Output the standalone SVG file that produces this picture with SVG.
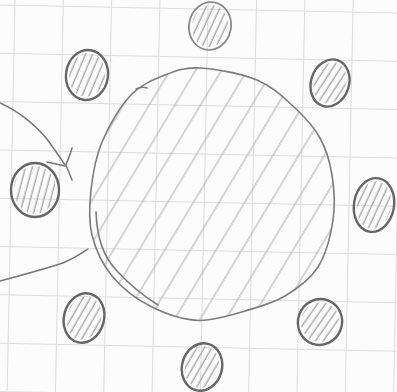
<svg xmlns="http://www.w3.org/2000/svg" width="397" height="392" viewBox="0 0 397 392">
  <defs>
    <style>
      .grid line { stroke: #dcdcdc; stroke-width: 1; }
      .outline { fill: none; stroke: #7c7c7c; stroke-width: 1.6; stroke-linecap: round; stroke-linejoin: round; }
      .pencil { fill: none; stroke: #767676; stroke-width: 1.5; stroke-linecap: round; stroke-linejoin: round; }
      .dot { fill: none; stroke: #666666; stroke-width: 2.4; }
      .dotfill { stroke: none; fill: url(#smallHatch); }
    </style>
    <pattern id="bigHatch" patternUnits="userSpaceOnUse" width="22" height="40" patternTransform="rotate(31)">
      <line x1="6" y1="-2" x2="6" y2="42" stroke="#b2b2b2" stroke-width="1.1"/>
    </pattern>
    <pattern id="smallHatch" patternUnits="userSpaceOnUse" width="6.5" height="20" patternTransform="rotate(15)">
      <line x1="3" y1="-2" x2="3" y2="22" stroke="#adadad" stroke-width="1.5"/>
    </pattern>
  </defs>

  <rect width="397" height="392" fill="#fcfcfc"/>

  <g class="grid" transform="rotate(1.15)">
    <line x1="-33.3" y1="-30" x2="-33.3" y2="430"/>
    <line x1="15" y1="-30" x2="15" y2="430"/>
    <line x1="63.3" y1="-30" x2="63.3" y2="430"/>
    <line x1="111.6" y1="-30" x2="111.6" y2="430"/>
    <line x1="159.9" y1="-30" x2="159.9" y2="430"/>
    <line x1="208.2" y1="-30" x2="208.2" y2="430"/>
    <line x1="256.5" y1="-30" x2="256.5" y2="430"/>
    <line x1="304.8" y1="-30" x2="304.8" y2="430"/>
    <line x1="353.1" y1="-30" x2="353.1" y2="430"/>
    <line x1="401.4" y1="-30" x2="401.4" y2="430"/>
    <line x1="-30" y1="-43.3" x2="430" y2="-43.3"/>
    <line x1="-30" y1="5" x2="430" y2="5"/>
    <line x1="-30" y1="53.3" x2="430" y2="53.3"/>
    <line x1="-30" y1="101.6" x2="430" y2="101.6"/>
    <line x1="-30" y1="149.9" x2="430" y2="149.9"/>
    <line x1="-30" y1="198.2" x2="430" y2="198.2"/>
    <line x1="-30" y1="246.5" x2="430" y2="246.5"/>
    <line x1="-30" y1="294.8" x2="430" y2="294.8"/>
    <line x1="-30" y1="343.1" x2="430" y2="343.1"/>
    <line x1="-30" y1="391.4" x2="430" y2="391.4"/>
  </g>

  <g id="center">
    <path fill="url(#bigHatch)" stroke="none" d="M200,68 C215.3,68.8 241.3,73.5 257,80 C272.7,86.5 283.5,97.3 294,107 C304.5,116.7 313.7,126.7 320,138 C326.3,149.3 329.8,161.3 332,175 C334.2,188.7 335.3,204.7 333,220 C330.7,235.3 326,254.3 318,267 C310,279.7 297.2,288.7 285,296 C272.8,303.3 259.2,306.8 245,311 C230.8,315.2 215.8,319.8 200,320.5 C184.2,320.2 164.7,313.5 150,306 C135.3,298.5 121.7,287.8 112,276 C102.3,264.2 95.5,249.3 92,235 C88.5,220.7 89.3,205.5 91,190 C92.7,174.5 95.5,157.7 102,142 C108.5,126.3 119.5,107.2 130,96 C140.5,84.8 153.3,79.7 165,75 C176.7,70.3 184.7,67.2 200,68 Z"/>
    <path class="outline" d="M200,68 C215.3,68.8 241.3,73.5 257,80 C272.7,86.5 283.5,97.3 294,107 C304.5,116.7 313.7,126.7 320,138 C326.3,149.3 329.8,161.3 332,175 C334.2,188.7 335.3,204.7 333,220 C330.7,235.3 326,254.3 318,267 C310,279.7 297.2,288.7 285,296 C272.8,303.3 259.2,306.8 245,311 C230.8,315.2 215.8,319.8 200,320.5 C184.2,320.2 164.7,313.5 150,306 C135.3,298.5 121.7,287.8 112,276 C102.3,264.2 95.5,249.3 92,235 C88.5,220.7 89.3,205.5 91,190 C92.7,174.5 95.5,157.7 102,142 C108.5,126.3 119.5,107.2 130,96 C140.5,84.8 153.3,79.7 165,75 C176.7,70.3 184.7,67.2 200,68 Z"/>
    <path class="outline" d="M96,212 C97,238 103,256 117,271 C129,284 142,295 158,305"/>
    <path class="outline" d="M136,89 C140,87 144,87 147,88"/>
  </g>

  <g id="dot-top">
    <ellipse class="dotfill" cx="210" cy="26" rx="18" ry="21" transform="rotate(10 210 26)"/>
    <ellipse class="dot" cx="210" cy="26" rx="21" ry="24" transform="rotate(10 210 26)" style="stroke:#8a8a8a;stroke-width:1.8"/>
  </g>
  <g id="dot-upper-left">
    <ellipse class="dotfill" cx="87" cy="75" rx="18" ry="22" transform="rotate(8 87 75)"/>
    <ellipse class="dot" cx="87" cy="75" rx="21" ry="25" transform="rotate(8 87 75)"/>
  </g>
  <g id="dot-upper-right">
    <ellipse class="dotfill" cx="330" cy="83" rx="16" ry="21" transform="rotate(18 330 83)"/>
    <ellipse class="dot" cx="330" cy="83" rx="19" ry="24" transform="rotate(18 330 83)"/>
  </g>
  <g id="dot-left">
    <ellipse class="dotfill" cx="35" cy="190" rx="21" ry="24"/>
    <ellipse class="dot" cx="35" cy="190" rx="24" ry="27"/>
  </g>
  <g id="dot-right">
    <ellipse class="dotfill" cx="374" cy="205" rx="17" ry="24" transform="rotate(10 374 205)"/>
    <ellipse class="dot" cx="374" cy="205" rx="20" ry="27" transform="rotate(10 374 205)"/>
  </g>
  <g id="dot-lower-left">
    <ellipse class="dotfill" cx="84" cy="318" rx="17" ry="22" transform="rotate(15 84 318)"/>
    <ellipse class="dot" cx="84" cy="318" rx="20" ry="25" transform="rotate(15 84 318)"/>
  </g>
  <g id="dot-lower-right">
    <ellipse class="dotfill" cx="320" cy="322" rx="19" ry="20" transform="rotate(20 320 322)"/>
    <ellipse class="dot" cx="320" cy="322" rx="22" ry="23" transform="rotate(20 320 322)"/>
  </g>
  <g id="dot-bottom">
    <ellipse class="dotfill" cx="202" cy="367" rx="17" ry="21" transform="rotate(15 202 367)"/>
    <ellipse class="dot" cx="202" cy="367" rx="20" ry="24" transform="rotate(15 202 367)"/>
  </g>

  <g id="connectors">
    <path class="pencil" d="M0,103 C20,112 40,128 52,146 C57,153 61,159 65,165"/>
    <path class="pencil" d="M47,162 L65,166"/>
    <path class="pencil" d="M72,148 C70,156 67,161 66,165 L72,180"/>
    <path class="pencil" d="M0,281 C25,274 50,268 65,262 C75,258 82,253 88,249"/>
  </g>
</svg>
